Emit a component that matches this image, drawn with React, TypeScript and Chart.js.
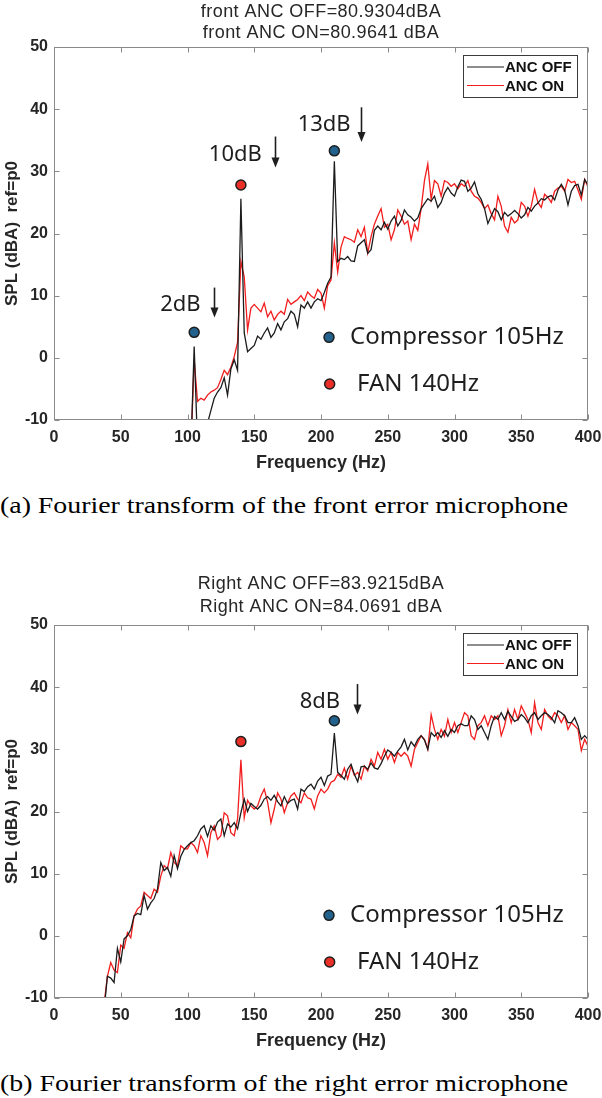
import React, { useEffect, useRef } from "react";
import { Chart, registerables } from "chart.js";

Chart.register(...registerables);

// Frequency grid (Hz)
const FREQ = [
  37.5, 40, 42.5, 45, 47.5, 50, 52.5, 55, 57.5, 60, 62.5, 65, 67.5, 70, 72.5, 75, 77.5, 80, 82.5, 85,
  87.5, 90, 92.5, 95, 97.5, 100, 102.5, 105, 107.5, 110, 112.5, 115, 117.5, 120, 122.5, 125, 127.5, 130, 132.5, 135,
  137.5, 140, 142.5, 145, 147.5, 150, 152.5, 155, 157.5, 160, 162.5, 165, 167.5, 170, 172.5, 175, 177.5, 180, 182.5, 185,
  187.5, 190, 192.5, 195, 197.5, 200, 202.5, 205, 207.5, 210, 212.5, 215, 217.5, 220, 222.5, 225, 227.5, 230, 232.5, 235,
  237.5, 240, 242.5, 245, 247.5, 250, 252.5, 255, 257.5, 260, 262.5, 265, 267.5, 270, 272.5, 275, 277.5, 280, 282.5, 285,
  287.5, 290, 292.5, 295, 297.5, 300, 302.5, 305, 307.5, 310, 312.5, 315, 317.5, 320, 322.5, 325, 327.5, 330, 332.5, 335,
  337.5, 340, 342.5, 345, 347.5, 350, 352.5, 355, 357.5, 360, 362.5, 365, 367.5, 370, 372.5, 375, 377.5, 380, 382.5, 385,
  387.5, 390, 392.5, 395, 397.5, 400,
];
// front microphone spectrum starts at 100 Hz
const FREQ_FRONT = FREQ.slice(25);

// (a) front error microphone, 100..400 Hz
const FRONT_OFF = [
  -20, -15, 1.8, -14, -16, -13, -10.5, -8.5, -6.5, -5.5, -4.8, -3.2, -6.0, -1.8, -0.3, -2.0, 25.6, 4.0, 1.0, 1.5,
  2.0, 3.5, 3.0, 4.0, 4.8, 3.3, 4.0, 5.5, 4.5, 5.8, 6.3, 7.5, 7.0, 5.0, 8.5, 8.0, 9.0, 8.0, 9.0, 9.5,
  9.2, 10.5, 12.0, 13.0, 31.6, 15.5, 16.0, 15.8, 16.3, 15.6, 15.5, 18.0, 18.5, 19.0, 16.8, 17.4, 20.5, 21.2, 20.6, 21.8,
  20.7, 22.0, 22.8, 21.2, 22.1, 23.8, 23.0, 22.6, 22.0, 22.5, 24.0, 24.8, 25.6, 25.2, 26.0, 24.2, 25.0, 26.5, 27.4, 26.5,
  26.0, 27.5, 28.6, 28.4, 26.8, 27.3, 28.3, 26.4, 25.5, 24.0, 21.6, 22.8, 24.0, 23.5, 22.2, 23.4, 22.8, 23.2, 23.7, 23.2,
  22.5, 23.0, 24.2, 23.6, 24.4, 24.9, 25.6, 25.4, 25.9, 26.1, 25.4, 27.0, 27.9, 27.0, 24.6, 26.8, 27.7, 27.9, 26.2, 28.7,
  27.8,
];
const FRONT_ON = [
  -20, -15, -0.3, -7.0, -6.5, -6.8, -6.0, -5.5, -5.2, -4.8, -3.5, -2.0, -2.7, -1.5, 0.2, 2.5, 15.5, 13.0, 4.5, 8.0,
  8.6, 8.0, 7.4, 8.8, 6.6, 7.5, 6.1, 7.0, 7.5, 7.0, 9.4, 8.6, 9.0, 9.4, 10.0, 9.2, 10.6, 10.0, 9.6, 11.0,
  10.4, 8.0, 11.6, 12.5, 18.5, 13.8, 17.8, 19.5, 19.2, 19.0, 18.6, 20.6, 19.5, 21.0, 16.9, 19.5, 21.5, 22.8, 24.0, 21.0,
  21.5, 19.0, 20.6, 23.8, 22.8, 21.5, 22.0, 19.0, 21.5, 20.5, 24.0, 28.5, 31.2, 25.5, 28.5, 28.0, 26.0, 28.5, 28.2, 27.6,
  28.0, 27.2, 28.0, 27.6, 28.5, 26.8, 26.0, 25.7, 25.0, 24.0, 24.6, 23.2, 22.2, 26.0, 24.4, 21.2, 20.2, 22.6, 21.7, 22.2,
  25.0, 24.4, 22.8, 24.4, 27.1, 25.0, 24.2, 26.3, 25.8, 25.0, 26.8, 27.3, 27.6, 26.8, 28.7, 28.2, 28.4, 27.0, 25.5, 28.7,
  27.5,
];

// (b) right error microphone, 37.5..400 Hz
const RIGHT_OFF = [
  -12, -6.5, -6.8, -7.5, -2.0, -4.2, -0.5, 0.0, 1.0, 3.2, 3.6, 3.4, 6.5, 4.3, 5.3, 6.0, 7.5, 11.8, 10.5, 11.0,
  9.6, 12.9, 10.8, 12.8, 13.9, 14.5, 15.0, 15.3, 16.1, 17.2, 17.7, 16.0, 17.7, 17.0, 18.3, 18.8, 16.1, 18.0, 17.5, 18.2,
  17.2, 19.8, 22.0, 20.0, 21.3, 20.8, 20.4, 21.0, 22.0, 22.4, 21.8, 22.6, 21.6, 20.9, 22.4, 21.3, 21.8, 22.0, 20.4, 23.6,
  23.2, 24.0, 24.4, 23.6, 24.9, 25.5, 24.2, 25.7, 26.0, 32.6, 26.3, 25.8, 25.2, 26.8, 27.6, 26.0, 24.8, 27.2, 27.3, 26.8,
  27.8, 27.0, 26.8, 27.7, 28.9, 29.9, 29.5, 28.9, 29.7, 30.4, 31.6, 29.9, 31.2, 30.5, 31.6, 32.2, 31.5, 30.0, 32.7, 32.1,
  32.7, 31.9, 33.0, 32.1, 33.2, 32.7, 33.8, 34.1, 33.8, 33.8, 35.4, 34.8, 33.2, 33.8, 32.7, 31.6, 33.8, 35.3, 34.8, 35.9,
  34.8, 36.1, 35.3, 34.5, 34.8, 35.6, 35.1, 34.3, 35.4, 35.9, 34.8, 35.4, 35.9, 35.6, 35.1, 34.3, 36.2, 35.9, 35.4, 34.3,
  34.3, 35.1, 33.8, 31.6, 32.2, 31.6,
];
const RIGHT_ON = [
  -11, -6.5, -4.3, -5.5, -5.9, -1.5, -2.0, 0.5, -0.3, 3.2, 4.3, 4.8, 7.0, 6.5, 6.0, 7.5, 7.0, 9.6, 11.3, 10.8,
  13.4, 11.8, 11.3, 14.5, 14.0, 14.0, 15.0, 14.5, 13.4, 16.1, 15.0, 12.9, 16.6, 17.7, 15.5, 16.1, 19.8, 19.3, 16.6, 16.1,
  18.8, 28.3, 19.0, 21.8, 20.9, 20.4, 20.9, 22.5, 23.6, 21.5, 18.2, 20.4, 23.0, 22.0, 19.8, 21.4, 22.5, 23.0, 22.0, 21.4,
  23.0, 22.2, 22.0, 20.4, 22.5, 23.6, 23.0, 23.6, 24.7, 25.0, 26.0, 25.5, 27.0, 25.2, 27.3, 25.8, 26.3, 25.2, 27.3, 26.5,
  28.4, 27.3, 29.5, 28.4, 30.0, 28.4, 29.5, 27.9, 29.5, 28.9, 29.5, 28.9, 27.3, 30.0, 31.1, 32.2, 31.6, 30.0, 35.6, 33.2,
  31.6, 33.2, 32.1, 34.8, 32.7, 34.3, 32.7, 34.3, 35.9, 35.4, 32.2, 31.6, 33.8, 34.3, 35.4, 33.8, 35.4, 34.8, 35.4, 32.2,
  33.8, 36.4, 34.3, 36.4, 34.8, 37.0, 35.9, 34.8, 32.7, 37.5, 34.3, 33.2, 36.4, 35.4, 34.8, 35.9, 35.4, 34.3, 35.4, 33.2,
  34.3, 33.8, 33.2, 29.8, 31.6, 30.5,
];

// Peak markers (Hz, dBA)
const FRONT_PEAK_F = [105, 140, 210];
const FRONT_PEAK_L = [4.1, 27.8, 33.3];
const RIGHT_PEAK_F = [140, 210];
const RIGHT_PEAK_L = [31.25, 34.6];
const PEAK_KIND_FRONT = ["comp", "fan", "comp"];
const PEAK_KIND_RIGHT = ["fan", "comp"];

const X_TICKS = [0, 50, 100, 150, 200, 250, 300, 350, 400];
const Y_TICKS = [-10, 0, 10, 20, 30, 40, 50];

const SERIES_LABELS = ["ANC OFF", "ANC ON"];
const KEY_LABELS = ["Compressor 105Hz", " FAN 140Hz"];

const BLUE = "#22628d";
const RED = "#ea2f28";
const BLACK = "#1c1c1c";
const LINE_RED = "#f21d1d";
const AXIS_GRAY = "#8a8a8a";
const TEXT = "#262626";

type Note = { text: string; f: number; v: number; af: number; av1: number; av2: number };

const framePlugin = {
  id: "matlabFrame",
  afterDatasetsDraw(chart: any, _args: any, opts: any) {
    const { ctx, chartArea: a } = chart;
    const xs = chart.scales.x;
    const ys = chart.scales.y;
    ctx.save();
    ctx.strokeStyle = AXIS_GRAY;
    ctx.lineWidth = 1;
    const L = Math.round(a.left) + 0.5;
    const R = Math.round(a.right) - 0.5;
    const T = Math.round(a.top) + 0.5;
    const B = Math.round(a.bottom) - 0.5;
    ctx.strokeRect(L, T, R - L, B - T);
    const tl = 5;
    ctx.beginPath();
    X_TICKS.forEach((t) => {
      const px = Math.round(xs.getPixelForValue(t)) + 0.5;
      ctx.moveTo(px, B);
      ctx.lineTo(px, B - tl);
      ctx.moveTo(px, T);
      ctx.lineTo(px, T + tl);
    });
    Y_TICKS.forEach((t) => {
      const py = Math.round(ys.getPixelForValue(t)) + 0.5;
      ctx.moveTo(L, py);
      ctx.lineTo(L + tl, py);
      ctx.moveTo(R, py);
      ctx.lineTo(R - tl, py);
    });
    ctx.stroke();

    // two-line title, centred over the axes
    const lines: string[] = opts.title || [];
    ctx.fillStyle = TEXT;
    ctx.font = '18px "Liberation Sans"';
    ctx.textAlign = "center";
    ctx.textBaseline = "middle";
    (ctx as any).letterSpacing = "0.45px";
    lines.forEach((s, i) => {
      ctx.fillText(s, (a.left + a.right) / 2, a.top + opts.titleOffsets[i]);
    });
    (ctx as any).letterSpacing = "0px";

    // annotations: "xdB" and arrows
    const notes: Note[] = opts.notes || [];
    ctx.fillStyle = "#1e1e1e";
    ctx.strokeStyle = "#1e1e1e";
    ctx.font = '22px "Noto Sans"';
    ctx.textBaseline = "middle";
    ctx.textAlign = "left";
    notes.forEach((n) => {
      ctx.fillText(n.text, xs.getPixelForValue(n.f), ys.getPixelForValue(n.v));
      const ax = Math.round(xs.getPixelForValue(n.af)) + 0.5;
      const y1 = ys.getPixelForValue(n.av1);
      const y2 = ys.getPixelForValue(n.av2);
      ctx.lineWidth = 1.6;
      ctx.beginPath();
      ctx.moveTo(ax, y1);
      ctx.lineTo(ax, y2 - 8);
      ctx.stroke();
      ctx.beginPath();
      ctx.moveTo(ax - 4, y2 - 10);
      ctx.lineTo(ax + 4, y2 - 10);
      ctx.lineTo(ax, y2);
      ctx.closePath();
      ctx.fill();
    });

    // key with coloured dots
    const keys = opts.keys || [];
    keys.forEach((k: any) => {
      const cx = xs.getPixelForValue(k.f);
      const cy = ys.getPixelForValue(k.v);
      ctx.beginPath();
      ctx.arc(cx, cy, 5, 0, Math.PI * 2);
      ctx.fillStyle = k.color;
      ctx.fill();
      ctx.lineWidth = 1.5;
      ctx.strokeStyle = "#1e1e1e";
      ctx.stroke();
      ctx.fillStyle = "#1e1e1e";
      ctx.font = '24px "Noto Sans"';
      ctx.fillText(k.label, cx + 21, cy);
    });

    // legend box
    const bx = a.right - 125;
    const by = a.top + 8;
    const bw = 114;
    const bh = 42;
    ctx.fillStyle = "#ffffff";
    ctx.fillRect(bx, by, bw, bh);
    ctx.strokeStyle = "#3a3a3a";
    ctx.lineWidth = 1;
    ctx.strokeRect(Math.round(bx) + 0.5, Math.round(by) + 0.5, bw, bh);
    const rows = [
      { label: chart.data.datasets[0].label, color: BLACK },
      { label: chart.data.datasets[1].label, color: LINE_RED },
    ];
    ctx.font = 'bold 15px "Liberation Sans"';
    rows.forEach((r, i) => {
      const ry = by + 12 + i * 18.5;
      ctx.strokeStyle = r.color;
      ctx.lineWidth = 1.2;
      ctx.beginPath();
      ctx.moveTo(bx + 4, ry);
      ctx.lineTo(bx + 41, ry);
      ctx.stroke();
      ctx.fillStyle = "#111";
      ctx.fillText(r.label, bx + 42, ry + 1);
    });
    ctx.restore();
  },
};

type PanelProps = {
  top: number;
  height: number;
  padTop: number;
  title: string[];
  titleOffsets: number[];
  freq: number[];
  off: number[];
  on: number[];
  peakF: number[];
  peakL: number[];
  peakKind: string[];
  notes: Note[];
};

function Panel(p: PanelProps) {
  const ref = useRef<HTMLCanvasElement | null>(null);
  useEffect(() => {
    if (!ref.current) return;
    const pts = (ys: number[]) => ys.map((v, i) => ({ x: p.freq[i], y: v }));
    const peaks = p.peakF.map((f, i) => ({ x: f, y: p.peakL[i] }));
    const chart = new Chart(ref.current, {
      type: "line",
      data: {
        datasets: [
          {
            label: SERIES_LABELS[0],
            data: pts(p.off),
            borderColor: BLACK,
            borderWidth: 1.3,
            pointRadius: 0,
            tension: 0,
            order: 2,
          },
          {
            label: SERIES_LABELS[1],
            data: pts(p.on),
            borderColor: LINE_RED,
            borderWidth: 1.3,
            pointRadius: 0,
            tension: 0,
            order: 3,
          },
          {
            type: "scatter",
            label: "peaks",
            data: peaks,
            pointRadius: 5,
            pointBorderWidth: 1.5,
            pointBorderColor: "#1e1e1e",
            pointBackgroundColor: p.peakKind.map((k) => (k === "comp" ? BLUE : RED)),
            showLine: false,
            order: 0,
          } as any,
        ],
      },
      options: {
        animation: false,
        responsive: false,
        maintainAspectRatio: false,
        layout: { padding: { left: 0, right: 14, top: p.padTop, bottom: 0 } },
        plugins: {
          legend: { display: false },
          tooltip: { enabled: false },
          title: { display: false },
          matlabFrame: {
            title: p.title,
            titleOffsets: p.titleOffsets,
            notes: p.notes,
            keys: [
              { label: KEY_LABELS[0], color: BLUE, f: 206, v: 3.3 },
              { label: KEY_LABELS[1], color: RED, f: 206.5, v: -4.2 },
            ],
          },
        } as any,
        scales: {
          x: {
            type: "linear",
            min: 0,
            max: 400,
            afterBuildTicks: (s: any) => {
              s.ticks = X_TICKS.map((v) => ({ value: v }));
            },
            afterFit: (s: any) => {
              s.height = 60;
              s.paddingLeft = 0;
              s.paddingRight = 0;
            },
            grid: { display: false, drawTicks: false },
            border: { display: false },
            ticks: {
              color: TEXT,
              font: { family: "Liberation Sans", size: 16, weight: "bold" },
              padding: 8,
              maxRotation: 0,
              autoSkip: false,
            },
            title: {
              display: true,
              text: "Frequency (Hz)",
              color: TEXT,
              font: { family: "Liberation Sans", size: 18, weight: "bold" },
              padding: { top: 6, bottom: 6 },
            },
          },
          y: {
            type: "linear",
            min: -10,
            max: 50,
            afterBuildTicks: (s: any) => {
              s.ticks = Y_TICKS.map((v) => ({ value: v }));
            },
            afterFit: (s: any) => {
              s.width = 54;
              s.paddingTop = 0;
              s.paddingBottom = 0;
            },
            grid: { display: false, drawTicks: false },
            border: { display: false },
            ticks: {
              color: TEXT,
              font: { family: "Liberation Sans", size: 16, weight: "bold" },
              padding: 6,
            },
            title: {
              display: true,
              text: "SPL (dBA)  ref=p0",
              color: TEXT,
              font: { family: "Liberation Sans", size: 17, weight: "bold" },
              padding: { top: 2, bottom: 2 },
            },
          },
        },
      },
      plugins: [framePlugin],
    });
    return () => chart.destroy();
  }, []);
  return (
    <canvas
      ref={ref}
      width={602}
      height={p.height}
      style={{ position: "absolute", left: 0, top: p.top, width: 602, height: p.height }}
    />
  );
}

const captionStyle: React.CSSProperties = {
  position: "absolute",
  left: 0,
  fontFamily: '"Liberation Serif", "DejaVu Serif", serif',
  fontSize: 24,
  color: "#000",
  whiteSpace: "nowrap",
  lineHeight: "26px",
  transform: "scaleX(1.16)",
  transformOrigin: "0 0",
};

export default function App() {
  return (
    <div style={{ position: "absolute", left: 0, top: 0, width: 602, height: 1098, background: "#fff" }}>
      <Panel
        top={0}
        height={480}
        padTop={47}
        title={["front ANC OFF=80.9304dBA", "front ANC ON=80.9641 dBA"]}
        titleOffsets={[-34.5, -13.5]}
        freq={FREQ_FRONT}
        off={FRONT_OFF}
        on={FRONT_ON}
        peakF={FRONT_PEAK_F}
        peakL={FRONT_PEAK_L}
        peakKind={PEAK_KIND_FRONT}
        notes={[
          { text: "2dB", f: 79.5, v: 8.5, af: 120, av1: 11.3, av2: 6.5 },
          { text: "10dB", f: 116, v: 32.7, af: 165.5, av1: 35.6, av2: 30.6 },
          { text: "13dB", f: 182.5, v: 37.5, af: 230.3, av1: 40.3, av2: 34.7 },
        ]}
      />
      <div style={{ ...captionStyle, top: 492 }}>(a) Fourier transform of the front error microphone</div>
      <Panel
        top={570}
        height={488}
        padTop={55}
        title={["Right ANC OFF=83.9215dBA", "Right ANC ON=84.0691 dBA"]}
        titleOffsets={[-41, -18]}
        freq={FREQ}
        off={RIGHT_OFF}
        on={RIGHT_ON}
        peakF={RIGHT_PEAK_F}
        peakL={RIGHT_PEAK_L}
        peakKind={PEAK_KIND_RIGHT}
        notes={[{ text: "8dB", f: 184, v: 37.7, af: 227, av1: 40.5, av2: 35.6 }]}
      />
      <div style={{ ...captionStyle, top: 1070 }}>(b) Fourier transform of the right error microphone</div>
    </div>
  );
}
